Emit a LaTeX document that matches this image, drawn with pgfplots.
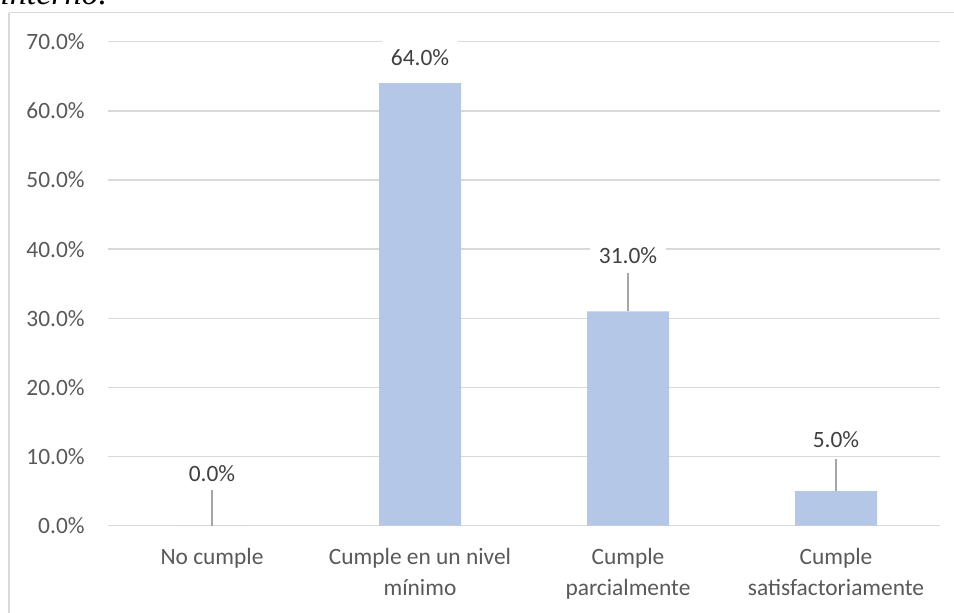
\documentclass[border=0pt]{standalone}
\usepackage{fontspec}
\setmainfont{Carlito}
\newfontfamily\capfont{Liberation Serif}
\usepackage{pgfplots}
\pgfplotsset{compat=1.18}
\definecolor{barblue}{HTML}{B4C7E7}
\definecolor{gridgray}{HTML}{D9D9D9}
\definecolor{ticktext}{HTML}{595959}
\definecolor{labeltext}{HTML}{404040}
\definecolor{leader}{HTML}{A6A6A6}
\begin{document}
\begin{tikzpicture}[x=1pt,y=1pt]
\useasboundingbox (0,0) rectangle (477,-306);
\clip (0,0) rectangle (477,-306);
\fill[white] (0,0) rectangle (477,-306);
\draw[gridgray, line width=0.6pt] (4.5,-6.35) -- (480,-6.35);
\draw[gridgray, line width=0.6pt] (4.5,-6.35) -- (4.5,-310);
\node[anchor=base west, inner sep=0pt, font=\capfont\itshape\fontsize{17}{20}\selectfont] at (0,-2) {interno.};
\begin{axis}[
  at={(54pt,-262.85pt)}, anchor=south west,
  scale only axis, width=416pt, height=242pt,
  xmin=-0.5, xmax=3.5, ymin=0, ymax=70,
  xtick={0,1,2,3},
  xticklabels={No cumple, {Cumple en un nivel\\mínimo}, {Cumple\\parcialmente}, {Cumple\\satisfactoriamente}},
  ytick={0,10,...,70},
  ymajorgrids, grid style={gridgray, line width=0.65pt},
  axis line style={draw=none},
  major tick length=0pt,
  /pgf/number format/assume math mode=true,
  yticklabel={\pgfmathprintnumber[fixed, fixed zerofill, precision=1]{\tick}\%},
  yticklabel style={anchor=east, inner sep=0pt, xshift=-11.5pt, font=\fontsize{11.7}{14}\selectfont, text=ticktext},
  xticklabel style={anchor=north, inner sep=0pt, yshift=-11.3pt, align=center, font=\fontsize{11.7}{15.2}\selectfont, text=ticktext},
  clip=false,
]
\addplot[ybar, bar width=41pt, fill=barblue, draw=none] coordinates {(0,0) (1,64) (2,31) (3,5)};
\draw[leader, line width=0.7pt] (axis cs:0,0) -- (axis cs:0,5.2);
\draw[leader, line width=0.7pt] (axis cs:2,31) -- (axis cs:2,36.6);
\draw[leader, line width=0.7pt] (axis cs:3,5) -- (axis cs:3,9.6);
\begin{scope}[every node/.style={fill=white, inner xsep=4.4pt, inner ysep=0pt, minimum height=16.5pt, text=labeltext, font=\fontsize{11.7}{14}\selectfont}]
\node at (axis cs:0,7.6) {0.0\%};
\node at (axis cs:1,67.7) {64.0\%};
\node at (axis cs:2,39.0) {31.0\%};
\node at (axis cs:3,12.5) {5.0\%};
\end{scope}
\end{axis}
\end{tikzpicture}
\end{document}
